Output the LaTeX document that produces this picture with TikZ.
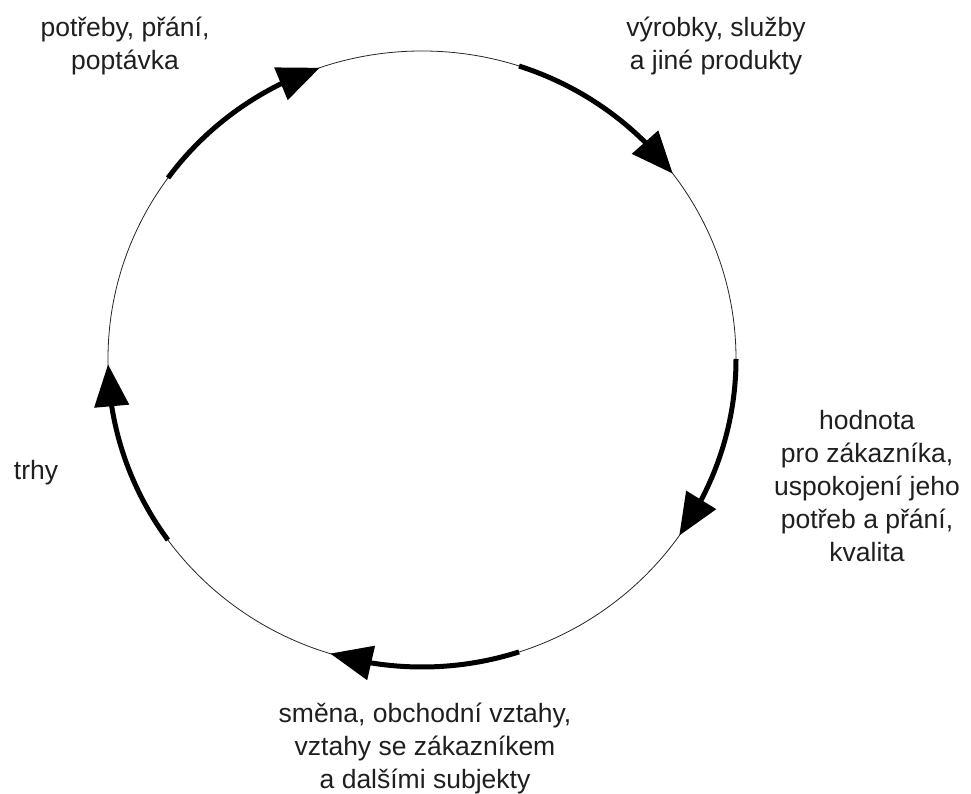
\documentclass[tikz,border=0pt]{standalone}
\usepackage{fontspec}
\setmainfont{Liberation Sans}
\usetikzlibrary{arrows.meta,bending}
\begin{document}
\begin{tikzpicture}[x=1pt,y=1pt,
  thinring/.style={line width=0.8pt,draw=black!85},
  thickarc/.style={line width=5pt,draw=black,-{Triangle[length=42pt,width=34pt,flex]}},
  lbl/.style={align=center,text=black!88,font=\fontsize{26.5}{33}\selectfont,inner sep=0pt}]
\useasboundingbox[fill=white] (0,0) rectangle (971,794);
\coordinate (c) at (422,435);
\draw[thinring] (c) ellipse [x radius=314, y radius=308];
\draw[thickarc] ([shift={(144:314 and 308)}]c) arc[start angle=144, end angle=109, x radius=314, y radius=308];
\draw[thickarc] ([shift={(72:314 and 308)}]c) arc[start angle=72, end angle=37, x radius=314, y radius=308];
\draw[thickarc] ([shift={(0:314 and 308)}]c) arc[start angle=0, end angle=-35, x radius=314, y radius=308];
\draw[thickarc] ([shift={(-72:314 and 308)}]c) arc[start angle=-72, end angle=-107, x radius=314, y radius=308];
\draw[thickarc] ([shift={(-144:314 and 308)}]c) arc[start angle=-144, end angle=-179, x radius=314, y radius=308];
\node[lbl] (n1) at (125,748) {potřeby, přání,\\poptávka};
\node[lbl] (n2) at (716,748) {výrobky, služby\\a jiné produkty};
\node[lbl] (n3) at (867,308) {hodnota\\pro zákazníka,\\uspokojení jeho\\potřeb a přání,\\kvalita};
\node[lbl] (n4) at (425,46) {směna, obchodní vztahy,\\vztahy se zákazníkem\\a dalšími subjekty};
\node[lbl] (n5) at (36,321) {trhy};
\end{tikzpicture}
\end{document}
